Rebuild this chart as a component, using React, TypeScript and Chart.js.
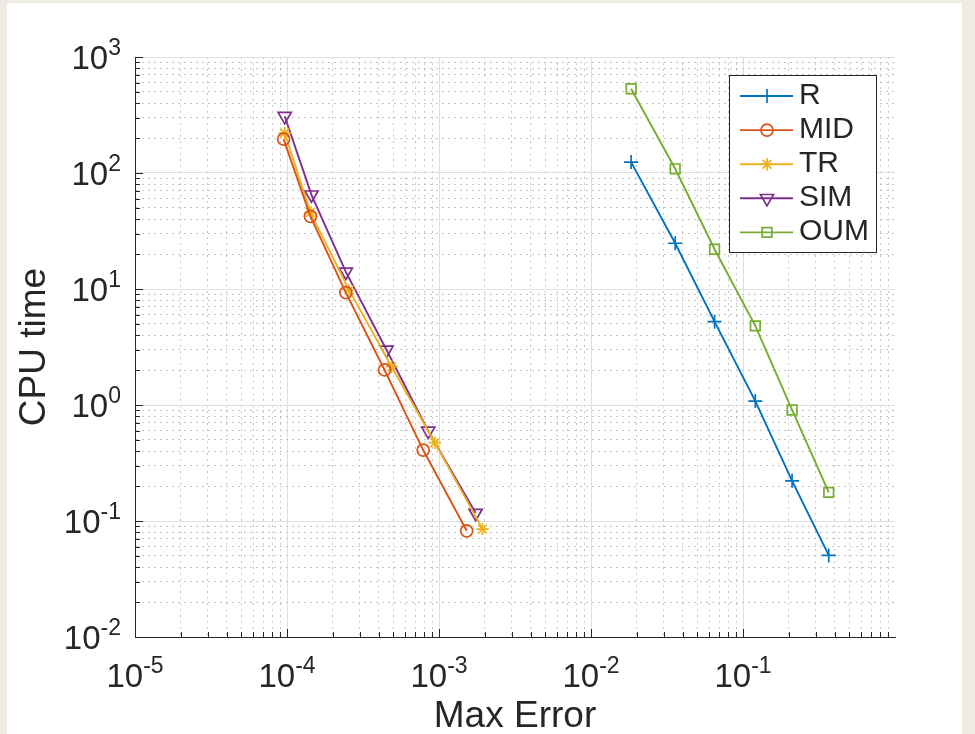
import React, { useEffect, useRef } from 'react';
import { Chart, registerables } from 'chart.js';
import { drawPoint } from 'chart.js/helpers';

Chart.register(...registerables);

// ---- data ----
const seriesNames = ['R', 'MID', 'TR', 'SIM', 'OUM'];

const rErr = [0.01836, 0.0358, 0.065, 0.1205, 0.2104, 0.3665];
const rTime = [124.2, 24.8, 5.23, 1.08, 0.222, 0.0505];

const midErr = [9.5e-5, 1.426e-4, 2.438e-4, 4.385e-4, 7.87e-4, 1.521e-3];
const midTime = [196.1, 42.2, 9.31, 2.005, 0.409, 0.0823];

const trErr = [9.66e-5, 1.426e-4, 2.56e-4, 4.88e-4, 9.4e-4, 1.936e-3];
const trTime = [220.9, 45.6, 9.82, 2.14, 0.473, 0.0851];

const simErr = [9.66e-5, 1.449e-4, 2.438e-4, 4.52e-4, 8.49e-4, 1.742e-3];
const simTime = [308.6, 64.9, 14.05, 2.98, 0.597, 0.117];

const oumErr = [0.01836, 0.0358, 0.065, 0.1205, 0.2104, 0.3665];
const oumTime = [532.8, 108.7, 22.0, 4.81, 0.906, 0.1766];

// tick labels (powers of ten) and minor tick multipliers
const xTickExps = [-5, -4, -3, -2, -1];
const yTickExps = [-2, -1, 0, 1, 2, 3];
const xMinorDecades = [-5, -4, -3, -2, -1];
const yMinorDecades = [-2, -1, 0, 1, 2];
const minorMultipliers = [2, 3, 4, 5, 6, 7, 8, 9];

const xTitle = 'Max Error';
const yTitle = 'CPU time';

const colors = ['#0072BD', '#D95319', '#EDB120', '#7E2F8E', '#77AC30'];
const styles = ['cross', 'circle', 'star', 'triangle', 'rect'];
const rotations = [0, 0, 0, 180, 0];
const radii = [7, 6, 6.2, 7.6, 6.8];

const FONT = '"Liberation Sans", Arial, Helvetica, sans-serif';
const TXT = '#262626';

type Tk = { value: number; major: boolean };
const makeTicks = (majors: number[], decades: number[]): Tk[] =>
  [
    ...majors.map((e) => ({ value: Math.pow(10, e), major: true })),
    ...decades.flatMap((e) => minorMultipliers.map((m) => ({ value: m * Math.pow(10, e), major: false }))),
  ].sort((a, b) => a.value - b.value);

const xTicks = makeTicks(xTickExps, xMinorDecades);
const yTicks = makeTicks(yTickExps, yMinorDecades);

function drawPow(ctx: CanvasRenderingContext2D, exp: number, x: number, baseY: number, align: 'center' | 'right') {
  const base = '10';
  const ex = String(exp);
  ctx.font = `33px ${FONT}`;
  const wb = ctx.measureText(base).width;
  ctx.font = `23px ${FONT}`;
  const we = ctx.measureText(ex).width;
  const total = wb + we;
  const start = align === 'center' ? x - total / 2 : x - total;
  ctx.fillStyle = TXT;
  ctx.textAlign = 'left';
  ctx.textBaseline = 'alphabetic';
  ctx.font = `33px ${FONT}`;
  ctx.fillText(base, start, baseY);
  ctx.font = `23px ${FONT}`;
  ctx.fillText(ex, start + wb, baseY - 14);
}

const decorPlugin = {
  id: 'decor',
  beforeDraw(chart: any) {
    const ctx = chart.ctx as CanvasRenderingContext2D;
    ctx.save();
    ctx.fillStyle = '#efebe3';
    ctx.fillRect(0, 0, chart.width, chart.height);
    ctx.fillStyle = '#ffffff';
    ctx.fillRect(7, 3, 955, chart.height - 3);
    ctx.restore();
  },
  afterDraw(chart: any) {
    const ctx = chart.ctx as CanvasRenderingContext2D;
    const xs = chart.scales.x;
    const ys = chart.scales.y;
    const area = chart.chartArea;
    ctx.save();
    // inner tick marks
    ctx.strokeStyle = TXT;
    ctx.lineWidth = 1;
    ctx.beginPath();
    xTicks.forEach((t) => {
      const px = Math.round(xs.getPixelForValue(t.value)) + 0.5;
      if (px > area.right + 1) return;
      const len = t.major ? 8 : 5;
      ctx.moveTo(px, area.bottom);
      ctx.lineTo(px, area.bottom - len);
    });
    yTicks.forEach((t) => {
      const py = Math.round(ys.getPixelForValue(t.value)) + 0.5;
      const len = t.major ? 8 : 5;
      ctx.moveTo(area.left, py);
      ctx.lineTo(area.left + len, py);
    });
    ctx.stroke();

    // tick labels
    xTickExps.forEach((e) => {
      const px = xs.getPixelForValue(Math.pow(10, e));
      drawPow(ctx, e, px, 687, 'center');
    });
    yTickExps.forEach((e) => {
      const py = ys.getPixelForValue(Math.pow(10, e));
      drawPow(ctx, e, 121, py + 11.5, 'right');
    });

    // axis titles
    ctx.fillStyle = TXT;
    ctx.font = `37px ${FONT}`;
    ctx.textAlign = 'center';
    ctx.textBaseline = 'alphabetic';
    ctx.fillText(xTitle, (area.left + area.right) / 2, 727);
    ctx.save();
    ctx.translate(45, (area.top + area.bottom) / 2);
    ctx.rotate(-Math.PI / 2);
    ctx.fillText(yTitle, 0, 0);
    ctx.restore();

    // legend
    const lx = 729.5, ly = 75.5, lw = 147, lh = 177;
    ctx.fillStyle = '#ffffff';
    ctx.fillRect(lx, ly, lw, lh);
    ctx.strokeStyle = '#262626';
    ctx.lineWidth = 1;
    ctx.strokeRect(lx, ly, lw, lh);
    chart.data.datasets.forEach((ds: any, i: number) => {
      const y = 96 + i * 34.1;
      ctx.strokeStyle = ds.borderColor;
      ctx.lineWidth = ds.borderWidth;
      ctx.beginPath();
      ctx.moveTo(740, y);
      ctx.lineTo(793, y);
      ctx.stroke();
      ctx.fillStyle = 'rgba(0,0,0,0)';
      ctx.lineWidth = ds.pointBorderWidth;
      ctx.strokeStyle = ds.borderColor;
      drawPoint(ctx, { pointStyle: ds.pointStyle, rotation: ds.pointRotation, radius: ds.pointRadius, borderWidth: ds.pointBorderWidth }, 767, y);
      ctx.fillStyle = TXT;
      ctx.font = `30px ${FONT}`;
      ctx.textAlign = 'left';
      ctx.textBaseline = 'alphabetic';
      ctx.fillText(ds.label, 799, y + 8);
    });
    ctx.restore();
  },
};

export default function App() {
  const ref = useRef<HTMLCanvasElement | null>(null);
  useEffect(() => {
    if (!ref.current) return;
    const errs = [rErr, midErr, trErr, simErr, oumErr];
    const times = [rTime, midTime, trTime, simTime, oumTime];
    const datasets = seriesNames.map((name, i) => ({
      label: name,
      data: errs[i].map((x, j) => ({ x, y: times[i][j] })),
      borderColor: colors[i],
      backgroundColor: 'rgba(0,0,0,0)',
      pointBackgroundColor: 'rgba(0,0,0,0)',
      pointBorderColor: colors[i],
      pointStyle: styles[i],
      pointRotation: rotations[i],
      pointRadius: radii[i],
      pointBorderWidth: 1.7,
      borderWidth: 1.9,
      tension: 0,
      fill: false,
      clip: false,
    }));
    const gridColor = (c: any) => (c.tick && c.tick.major ? '#dedede' : '#c6c6c6');
    const gridDash = (c: any) => (c.tick && !c.tick.major ? [2, 4] : []);
    const chart = new Chart(ref.current, {
      type: 'line',
      data: { datasets } as any,
      options: {
        responsive: false,
        maintainAspectRatio: false,
        animation: false,
        events: [],
        layout: { padding: { left: 0, top: 57, right: 80, bottom: 0 } },
        plugins: { legend: { display: false }, tooltip: { enabled: false } },
        scales: {
          x: {
            type: 'logarithmic',
            min: 1e-5,
            max: 1,
            afterBuildTicks: (s: any) => {
              s.ticks = xTicks.map((t) => ({ value: t.value, major: t.major }));
            },
            afterFit: (s: any) => {
              s.height = 97;
            },
            ticks: { display: false, autoSkip: false },
            grid: { color: gridColor, lineWidth: 1, drawTicks: false },
            border: { display: true, color: TXT, width: 1, dash: gridDash },
          },
          y: {
            type: 'logarithmic',
            min: 1e-2,
            max: 1e3,
            afterBuildTicks: (s: any) => {
              s.ticks = yTicks.map((t) => ({ value: t.value, major: t.major }));
            },
            afterFit: (s: any) => {
              s.width = 135;
            },
            ticks: { display: false, autoSkip: false },
            grid: { color: gridColor, lineWidth: 1, drawTicks: false },
            border: { display: true, color: TXT, width: 1, dash: gridDash },
          },
        },
      } as any,
      plugins: [decorPlugin],
    });
    return () => chart.destroy();
  }, []);
  return (
    <div style={{ position: 'absolute', left: 0, top: 0, width: 975, height: 734 }}>
      <canvas ref={ref} width={975} height={734} style={{ display: 'block', width: 975, height: 734 }} />
    </div>
  );
}
